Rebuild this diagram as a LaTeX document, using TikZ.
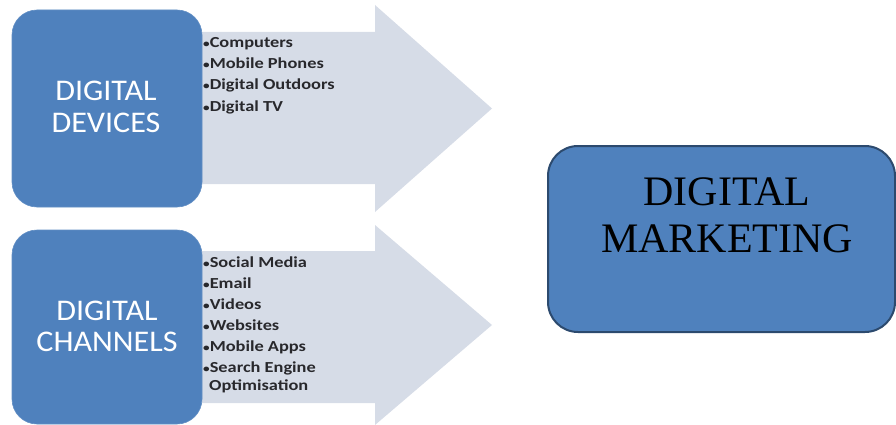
\documentclass[tikz,border=0pt]{standalone}
\usepackage{fontspec}
\setmainfont{Liberation Serif}
\newfontfamily\calib[FakeStretch=1.07]{Carlito}
\newfontfamily\bul[FakeStretch=1.2]{Carlito Bold}
\definecolor{boxblue}{RGB}{79,129,189}
\definecolor{boxedge}{RGB}{44,74,110}
\definecolor{arrowgray}{RGB}{214,220,231}
\definecolor{bultext}{RGB}{40,40,44}
\newcommand{\smallbul}{{\fontsize{11}{11}\selectfont•}}
\tikzset{
  arrowshape/.style={fill=arrowgray, draw=none},
  leftbox/.style={fill=boxblue, draw=boxblue!90!white, line width=0.6pt, rounded corners=25pt},
  lefttext/.style={font=\calib\fontsize{30}{31}\selectfont, text=white, inner sep=0pt, anchor=base},
  bulitem/.style={font=\bul\fontsize{15.3}{17}\selectfont, text=bultext, inner sep=0pt, anchor=base west},
  bigtext/.style={font=\fontsize{42}{47}\selectfont, text=black, inner sep=0pt, anchor=base},
}
\begin{document}
\begin{tikzpicture}[x=1pt,y=-1pt]
\useasboundingbox (0,0) rectangle (896,425);
% arrows
\fill[arrowshape] (202,32) -- (375,32) -- (375,5) -- (492,108.5) -- (375,212) -- (375,184) -- (202,184) -- cycle;
\fill[arrowshape] (202,251) -- (375,251) -- (375,225) -- (492,325) -- (375,425) -- (375,403) -- (202,403) -- cycle;
% left boxes
\draw[leftbox] (12,10) rectangle (202,207);
\draw[leftbox] (12,230) rectangle (202,424);
\node[lefttext] (dev1) at (106,101) {DIGITAL};
\node[lefttext] (dev2) at (106,132) {DEVICES};
\node[lefttext] (ch1) at (107,320) {DIGITAL};
\node[lefttext] (ch2) at (107,351) {CHANNELS};
% bullet lists
\node[bulitem] (d1) at (203,48) {\smallbul Computers};
\node[bulitem] (d2) at (203,69) {\smallbul Mobile Phones};
\node[bulitem] (d3) at (203,90) {\smallbul Digital Outdoors};
\node[bulitem] (d4) at (203,111) {\smallbul Digital TV};
\node[bulitem] (c1) at (203,267) {\smallbul Social Media};
\node[bulitem] (c2) at (203,288) {\smallbul Email};
\node[bulitem] (c3) at (203,309) {\smallbul Videos};
\node[bulitem] (c4) at (203,330) {\smallbul Websites};
\node[bulitem] (c5) at (203,351) {\smallbul Mobile Apps};
\node[bulitem] (c6) at (203,372) {\smallbul Search Engine};
\node[bulitem] (c7) at (209,390) {Optimisation};
% right box
\draw[fill=boxblue, draw=boxedge, line width=2pt, rounded corners=30pt] (548,146) rectangle (895,332);
\node[bigtext] (m1) at (727,205) {DIGITAL};
\node[bigtext] (m2) at (727,252) {MARKETING};
\end{tikzpicture}
\end{document}
